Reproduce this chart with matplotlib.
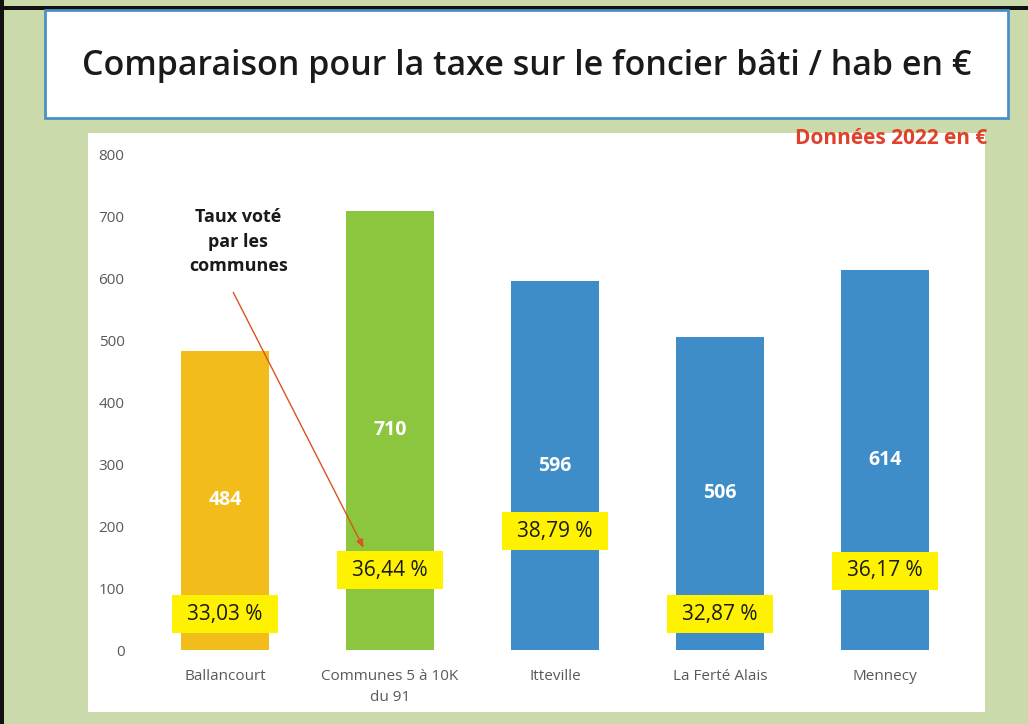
import matplotlib
matplotlib.use("Agg")
import matplotlib.pyplot as plt
from matplotlib.patches import Rectangle

categories = ["Ballancourt", "Communes 5 à 10K\ndu 91", "Itteville", "La Ferté Alais", "Mennecy"]
values = [484, 710, 596, 506, 614]
rates = ["33,03 %", "36,44 %", "38,79 %", "32,87 %", "36,17 %"]
rate_label_y = [58, 129, 192, 58, 128]
bar_colors = ["#F2BC1B", "#8CC63E", "#3E8DC8", "#3E8DC8", "#3E8DC8"]
yticks = [0, 100, 200, 300, 400, 500, 600, 700, 800]

W, H = 1028, 724
fig = plt.figure(figsize=(W / 100, H / 100), dpi=100)
fig.patch.set_facecolor("#CBDAAB")

def px_rect(x0, y0, x1, y1, **kw):
    r = Rectangle((x0 / W, 1 - y1 / H), (x1 - x0) / W, (y1 - y0) / H,
                  transform=fig.transFigure, zorder=-5, **kw)
    fig.patches.append(r)

# scan borders
px_rect(0, 0, 4, H, facecolor="#111111", edgecolor="none")
px_rect(0, 6, W, 10, facecolor="#111111", edgecolor="none")
# title box
px_rect(45, 10, 1008, 118, facecolor="white", edgecolor="#4A90C8", linewidth=2)
# chart area
px_rect(88, 133, 985, 712, facecolor="white", edgecolor="none")

fig.text((45 + 1008) / 2 / W, 1 - 66 / H,
         "Comparaison pour la taxe sur le foncier bâti / hab en €",
         ha="center", va="center", fontsize=24.5, family="Open Sans",
         fontweight="semibold", color="#1a1a1a")
fig.text(987 / W, 1 - 138 / H, "Données 2022 en €", ha="right", va="center",
         fontsize=15, family="Open Sans", fontweight="bold", color="#E0412B")

ax = fig.add_axes([142.5 / W, (H - 650) / H, 825 / W, 495 / H])
ax.set_facecolor("none")
x = list(range(len(categories)))
ax.bar(x, values, width=0.535, color=bar_colors)
ax.set_xlim(-0.5, 4.5)
ax.set_ylim(0, 800)
ax.set_yticks(yticks)
ax.set_xticks(x)
ax.set_xticklabels(categories, linespacing=1.55)
for s in ax.spines.values():
    s.set_visible(False)
ax.tick_params(length=0, labelsize=11, labelcolor="#595959")
ax.tick_params(axis="y", pad=13)
ax.tick_params(axis="x", pad=14)
for lab in ax.get_yticklabels() + ax.get_xticklabels():
    lab.set_family("Open Sans")

for xi, v in zip(x, values):
    ax.text(xi, v / 2, str(v), ha="center", va="center", color="white",
            fontsize=14, fontweight="bold", family="Open Sans")

box_w, box_h = 0.64, 61
for xi, r, ry in zip(x, rates, rate_label_y):
    ax.add_patch(Rectangle((xi - box_w / 2, ry - box_h / 2), box_w, box_h,
                           facecolor="#FFF200", edgecolor="none", zorder=3))
    ax.text(xi, ry, r, ha="center", va="center", color="#1a1a1a", fontsize=15,
            family="Open Sans", zorder=4)

ax.text(0.08, 660, "Taux voté\npar les\ncommunes",
        ha="center", va="center", fontsize=13, fontweight="bold",
        family="Open Sans", color="#1a1a1a", linespacing=1.45)
ax.annotate("", xy=(0.84, 165), xytext=(0.05, 578),
            arrowprops=dict(arrowstyle="-|>,head_length=0.5,head_width=0.2",
                            color="#D9541E", lw=1.0, shrinkA=0, shrinkB=0),
            zorder=5)

fig.savefig("out.png", dpi=100)
